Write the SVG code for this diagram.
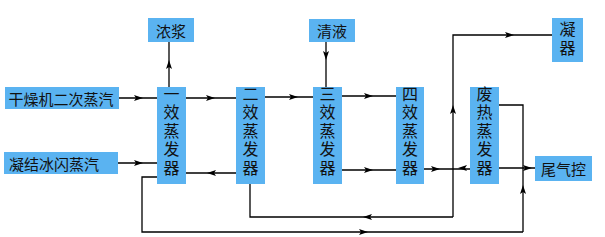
<svg xmlns="http://www.w3.org/2000/svg" width="605" height="237" viewBox="0 0 605 237">
<style>
.box{fill:#5ab3f1;}
.t{font-family:"Noto Sans CJK SC","Noto Sans",sans-serif;font-size:15px;fill:#111;text-anchor:middle;dominant-baseline:central;}
.v{font-family:"Noto Sans CJK SC","Noto Sans",sans-serif;font-size:16px;fill:#111;text-anchor:middle;writing-mode:vertical-rl;letter-spacing:2.5px;}
.ln{fill:none;stroke:#000;stroke-width:1.3;}
</style>
<defs>
<path id="ah" d="M0,0 L-9,-3 L-7,0 L-9,3 Z" fill="#000"/>
</defs>
<rect width="605" height="237" fill="#fff"/>
<g id="connectors">
<path class="ln" d="M119,98 H157"/>
<path class="ln" d="M186,98 H236"/>
<path class="ln" d="M265,97 H313"/>
<path class="ln" d="M342,96 H396"/>
<path class="ln" d="M169,87 V42"/>
<path class="ln" d="M326,42 V87"/>
<path class="ln" d="M453,217 V35 H552"/>
<path class="ln" d="M118,163 H157"/>
<path class="ln" d="M236,173 H186"/>
<path class="ln" d="M342,170 H396"/>
<path class="ln" d="M424,169 H470"/>
<path class="ln" d="M499,168 H535"/>
<path class="ln" d="M499,105 H523 V232"/>
<path class="ln" d="M157,177 H142 V232 H523"/>
<path class="ln" d="M250,184 V217 H453"/>
<use href="#ah" transform="translate(143,98)"/>
<use href="#ah" transform="translate(215,98)"/>
<use href="#ah" transform="translate(298,97)"/>
<use href="#ah" transform="translate(373,96)"/>
<use href="#ah" transform="translate(169,60) rotate(-90)"/>
<use href="#ah" transform="translate(326,60) rotate(90)"/>
<use href="#ah" transform="translate(514,35)"/>
<use href="#ah" transform="translate(453,105) rotate(-90)"/>
<use href="#ah" transform="translate(143,163)"/>
<use href="#ah" transform="translate(207,173) rotate(180)"/>
<use href="#ah" transform="translate(373,170)"/>
<use href="#ah" transform="translate(440,169)"/>
<use href="#ah" transform="translate(458,168) rotate(180)"/>
<use href="#ah" transform="translate(532,168)"/>
<use href="#ah" transform="translate(523,185) rotate(-90)"/>
<use href="#ah" transform="translate(363,217) rotate(180)"/>
<use href="#ah" transform="translate(368,232)"/>
</g>
<g id="n-nongjiang"><rect class="box" x="148" y="18" width="46" height="24"/><text class="t" x="171" y="30">浓浆</text></g>
<g id="n-qingye"><rect class="box" x="309" y="19" width="46" height="23"/><text class="t" x="332" y="30.5">清液</text></g>
<g id="n-ningqi"><rect class="box" x="552" y="18" width="31" height="44"/><text class="v" x="567.5" y="39.5">凝器</text></g>
<g id="n-ganzao"><rect class="box" x="5" y="87" width="114" height="22"/><text class="t" x="61" y="98">干燥机二次蒸汽</text></g>
<g id="n-ningjie"><rect class="box" x="4" y="152" width="114" height="22"/><text class="t" x="54" y="163">凝结冰闪蒸汽</text></g>
<g id="n-e1"><rect class="box" x="157" y="87" width="29" height="97"/><text class="v" x="171.5" y="132">一效蒸发器</text></g>
<g id="n-e2"><rect class="box" x="236" y="87" width="29" height="97"/><text class="v" x="250.5" y="132">二效蒸发器</text></g>
<g id="n-e3"><rect class="box" x="313" y="87" width="29" height="97"/><text class="v" x="327.5" y="132">三效蒸发器</text></g>
<g id="n-e4"><rect class="box" x="396" y="87" width="28" height="97"/><text class="v" x="410" y="132">四效蒸发器</text></g>
<g id="n-feire"><rect class="box" x="470" y="87" width="29" height="97"/><text class="v" x="484.5" y="132">废热蒸发器</text></g>
<g id="n-weiqi"><rect class="box" x="535" y="156" width="57" height="25"/><text class="t" x="563.5" y="168.5">尾气控</text></g>
</svg>
